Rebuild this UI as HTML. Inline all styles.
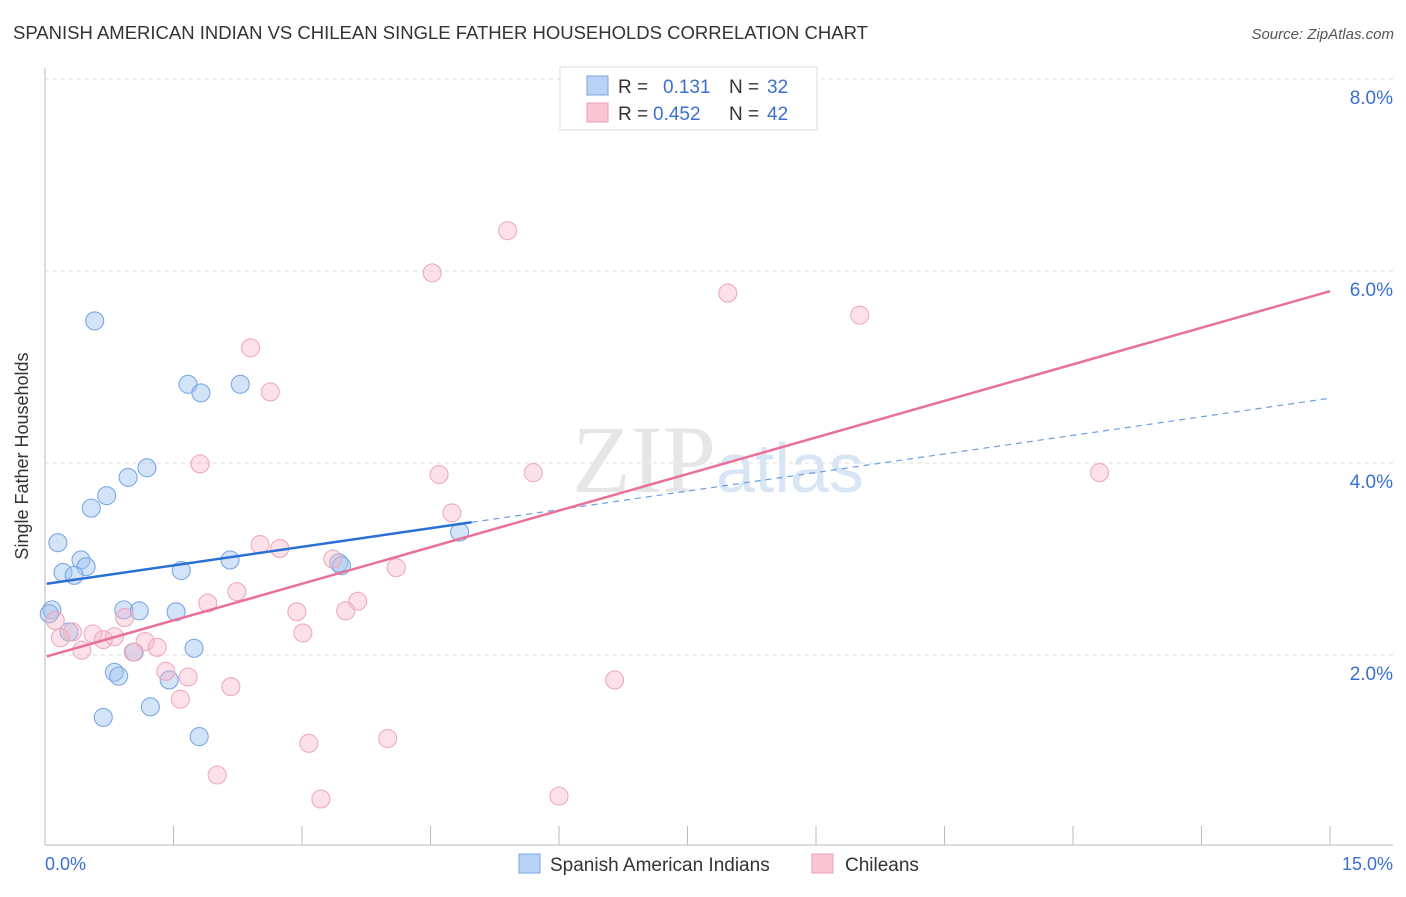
<!DOCTYPE html>
<html><head><meta charset="utf-8"><style>
body{margin:0;background:#fff;font-family:"Liberation Sans",sans-serif;}
</style></head><body>
<svg id="chart" width="1406" height="892" xmlns="http://www.w3.org/2000/svg" font-family="Liberation Sans, sans-serif">
<text x="13" y="39" font-size="18.5" fill="#333">SPANISH AMERICAN INDIAN VS CHILEAN SINGLE FATHER HOUSEHOLDS CORRELATION CHART</text>
<text x="1394" y="39" font-size="15" fill="#555" font-style="italic" text-anchor="end">Source: ZipAtlas.com</text>
<g id="grid"></g>
<text x="716" y="492" font-size="96" fill="#e6e6e6" text-anchor="end" font-family="Liberation Serif, serif">ZIP</text>
<text x="716" y="492" font-size="70" fill="#d8e5f5">atlas</text>
<line x1="45" y1="68" x2="45" y2="845" stroke="#bbb"/>
<line x1="45" y1="845" x2="1393" y2="845" stroke="#bbb"/>
<g id="marks"></g>
<text x="28" y="456" font-size="18" fill="#333" text-anchor="middle" transform="rotate(-90 28 456)">Single Father Households</text>
<text x="45" y="870" font-size="18" fill="#3b6fd0">0.0%</text>
<text x="1393" y="870" font-size="18" fill="#3b6fd0" text-anchor="end">15.0%</text>
<g>
<rect x="560" y="67" width="257" height="63" fill="#fff" stroke="#ddd"/>
<rect x="587" y="76" width="21" height="19" fill="#b8d3f5" stroke="#7ba6e0"/>
<rect x="587" y="103" width="21" height="19" fill="#fac6d4" stroke="#eaa0b6"/>
<text x="618" y="93" font-size="19" fill="#333">R = <tspan x="663" fill="#3b6fd0">0.131</tspan><tspan x="729" fill="#333">N = </tspan><tspan x="767" fill="#3b6fd0">32</tspan></text>
<text x="618" y="120" font-size="19" fill="#333">R = <tspan x="653" fill="#3b6fd0">0.452</tspan><tspan x="729" fill="#333">N = </tspan><tspan x="767" fill="#3b6fd0">42</tspan></text>
</g>
<g>
<rect x="519" y="854" width="21" height="19" fill="#b8d3f5" stroke="#7ba6e0"/>
<text x="550" y="871" font-size="19" fill="#333">Spanish American Indians</text>
<rect x="812" y="854" width="21" height="19" fill="#fac6d4" stroke="#eaa0b6"/>
<text x="845" y="871" font-size="19" fill="#333">Chileans</text>
</g>
</svg>
<script>
const yTicks=[2,4,6,8];
const yTickLabels=["2.0%","4.0%","6.0%","8.0%"];
const xTicks=[0,1.5,3,4.5,6,7.5,9,10.5,12,13.5,15];
const blueX=[0.58,1.67,1.82,2.28,1.19,0.97,0.72,0.54,0.15,0.42,0.48,0.21,0.34,1.59,2.16,3.43,3.46,4.84,0.08,0.05,0.92,1.10,1.53,0.28,1.74,1.04,0.81,0.86,1.45,0.68,1.23,1.80];
const blueY=[5.48,4.82,4.73,4.82,3.95,3.85,3.66,3.53,3.17,2.99,2.92,2.86,2.83,2.88,2.99,2.96,2.93,3.28,2.47,2.43,2.47,2.46,2.45,2.24,2.07,2.03,1.82,1.78,1.74,1.35,1.46,1.15];
const pinkX=[5.40,4.52,7.97,9.51,2.40,2.63,1.81,4.60,5.70,12.31,4.75,2.51,2.74,3.36,4.10,2.24,1.90,3.65,2.94,3.51,0.93,0.12,0.32,0.56,0.81,0.68,1.17,1.31,0.18,0.43,3.01,1.03,1.41,1.67,1.58,2.17,6.65,3.08,4.00,2.01,3.22,6.00];
const pinkY=[6.42,5.98,5.77,5.54,5.20,4.74,3.99,3.88,3.90,3.90,3.48,3.15,3.11,3.00,2.91,2.66,2.54,2.56,2.45,2.46,2.39,2.36,2.24,2.22,2.19,2.16,2.14,2.08,2.18,2.05,2.23,2.03,1.83,1.77,1.54,1.67,1.74,1.08,1.13,0.75,0.50,0.53];
const blueTrend=[2.74,0.129];
const pinkTrend=[1.98,0.254];
const blueSolidEnd=4.98;
const NS="http://www.w3.org/2000/svg";
const sx=v=>45+v*(1285/15);
const sy=v=>847-v*96;
const grid=document.getElementById('grid');
const marks=document.getElementById('marks');
const svg=document.getElementById('chart');
function mk(tag,attrs,parent){const e=document.createElementNS(NS,tag);for(const k in attrs)e.setAttribute(k,attrs[k]);parent.appendChild(e);return e;}
yTicks.forEach((t,i)=>{
  const l=mk('line',{x1:45,x2:1393,y1:sy(t),y2:sy(t),stroke:'#ddd','stroke-dasharray':'4 4'},grid);
  
  
  const tx=mk('text',{x:1393,y:sy(t)+25,'font-size':19,fill:'#3b6fd0','text-anchor':'end'},svg);
  tx.textContent=yTickLabels[i];
  
  
});
xTicks.forEach(t=>{
  const l=mk('line',{x1:sx(t),x2:sx(t),y1:826,y2:845,stroke:'#bbb'},grid);
  
  
});
blueX.forEach((x,i)=>{
  const c=mk('circle',{cx:sx(x),cy:sy(blueY[i]),r:9,fill:'rgba(160,196,240,0.45)',stroke:'#7aa8e4','stroke-width':1.1},marks);
  
  
});
pinkX.forEach((x,i)=>{
  const c=mk('circle',{cx:sx(x),cy:sy(pinkY[i]),r:9,fill:'rgba(248,180,200,0.4)',stroke:'#eeaabf','stroke-width':1.1},marks);
  
  
});
const bs=mk('line',{x1:sx(0.02),y1:sy(blueTrend[0]+blueTrend[1]*0.02),x2:sx(blueSolidEnd),y2:sy(blueTrend[0]+blueTrend[1]*blueSolidEnd),stroke:'#2a6fd6','stroke-width':2.5},marks);


const bd=mk('line',{x1:sx(blueSolidEnd),y1:sy(blueTrend[0]+blueTrend[1]*blueSolidEnd),x2:sx(15),y2:sy(blueTrend[0]+blueTrend[1]*15),stroke:'#6a9ee0','stroke-width':1.2,'stroke-dasharray':'6 5'},marks);


const ps=mk('line',{x1:sx(0.02),y1:sy(pinkTrend[0]+pinkTrend[1]*0.02),x2:sx(15),y2:sy(pinkTrend[0]+pinkTrend[1]*15),stroke:'#e8709a','stroke-width':2.5},marks);


</script>
</body></html>
